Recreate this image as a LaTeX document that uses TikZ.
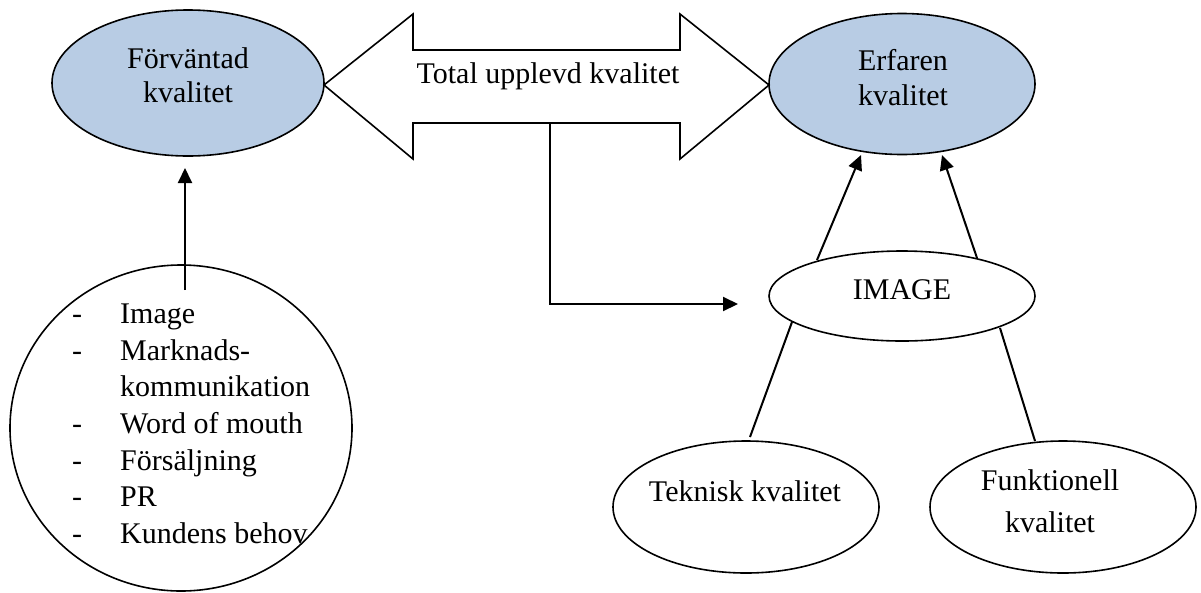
\documentclass[tikz,border=0pt]{standalone}
\usepackage{fontspec}
\setmainfont{Liberation Serif}
\usetikzlibrary{shapes.geometric,arrows.meta}
\definecolor{lblue}{RGB}{184,204,228}
\begin{document}
\begin{tikzpicture}[x=1pt,y=-1pt,
  every node/.style={font=\fontsize{30}{36}\selectfont, inner sep=0pt},
  oval/.style={ellipse, draw, line width=1.6pt},
  blueoval/.style={oval, fill=lblue},
  lbl/.style={anchor=base},
  item/.style={anchor=base west},
  arr/.style={line width=2pt, -{Triangle[length=15pt,width=14pt]}},
  conn/.style={line width=2pt},
  bigarrow/.style={line width=1.6pt, fill=white, line join=miter}]
\useasboundingbox (0,0) rectangle (1201,592);

% top ellipses
\node[blueoval, minimum width=272pt, minimum height=146pt] (fv) at (188,83) {};
\node[lbl] (fvA) at (188,68) {Förväntad};
\node[lbl] (fvB) at (188,102) {kvalitet};

\node[blueoval, minimum width=266pt, minimum height=141pt] (ef) at (902,84) {};
\node[lbl] (efA) at (903,70) {Erfaren};
\node[lbl] (efB) at (903,105) {kvalitet};

% double arrow
\coordinate (dl) at (324,85);
\coordinate (dr) at (769,85);
\coordinate (dbot) at (550,123);
\draw[bigarrow] (dl) -- (413,14) -- (413,50) -- (680,50) -- (680,14) -- (dr)
  -- (680,159) -- (680,123) -- (413,123) -- (413,159) -- cycle;
\node[lbl] (tot) at (548,83) {Total upplevd kvalitet};

% IMAGE
\node[oval, minimum width=266pt, minimum height=90pt] (im) at (902,296) {};
\node[lbl] (imT) at (902,299) {IMAGE};
\coordinate (imIn) at (738,304);
\draw[arr] (dbot) |- (imIn);

% bottom ellipses
\node[oval, minimum width=266pt, minimum height=132pt] (tk) at (746,507) {};
\node[lbl] (tkT) at (745,501) {Teknisk kvalitet};
\node[oval, minimum width=266pt, minimum height=132pt] (fk) at (1063,507) {};
\node[lbl] (fkA) at (1050,490) {Funktionell};
\node[lbl] (fkB) at (1050,532) {kvalitet};

% connectors right side
\coordinate (tkTop) at (750,437);
\coordinate (imBL) at (792,322);
\coordinate (imBR) at (1000,328);
\coordinate (fkTop) at (1035,441);
\coordinate (imTL) at (817,260);
\coordinate (imTR) at (977,258);
\coordinate (efL) at (861,155);
\coordinate (efR) at (942,155);
\draw[conn] (tkTop) -- (imBL);
\draw[conn] (fkTop) -- (imBR);
\draw[arr] (imTL) -- (efL);
\draw[arr] (imTR) -- (efR);

% left source circle
\node[oval, minimum width=342pt, minimum height=326pt] (src) at (181,428) {};
\coordinate (srcIn) at (185,290);
\coordinate (fvIn) at (185,168);
\draw[arr] (srcIn) -- (fvIn);

\node[lbl] (d1) at (77,323) {-};
\node[item] (t1) at (120,323) {Image};
\node[lbl] (d2) at (77,360) {-};
\node[item] (t2) at (120,360) {Marknads-};
\node[item] (t3) at (120,396) {kommunikation};
\node[lbl] (d4) at (77,433) {-};
\node[item] (t4) at (120,433) {Word of mouth};
\node[lbl] (d5) at (77,470) {-};
\node[item] (t5) at (120,470) {Försäljning};
\node[lbl] (d6) at (77,506) {-};
\node[item] (t6) at (120,506) {PR};
\node[lbl] (d7) at (77,543) {-};
\node[item] (t7) at (120,543) {Kundens behov};
\end{tikzpicture}
\end{document}
